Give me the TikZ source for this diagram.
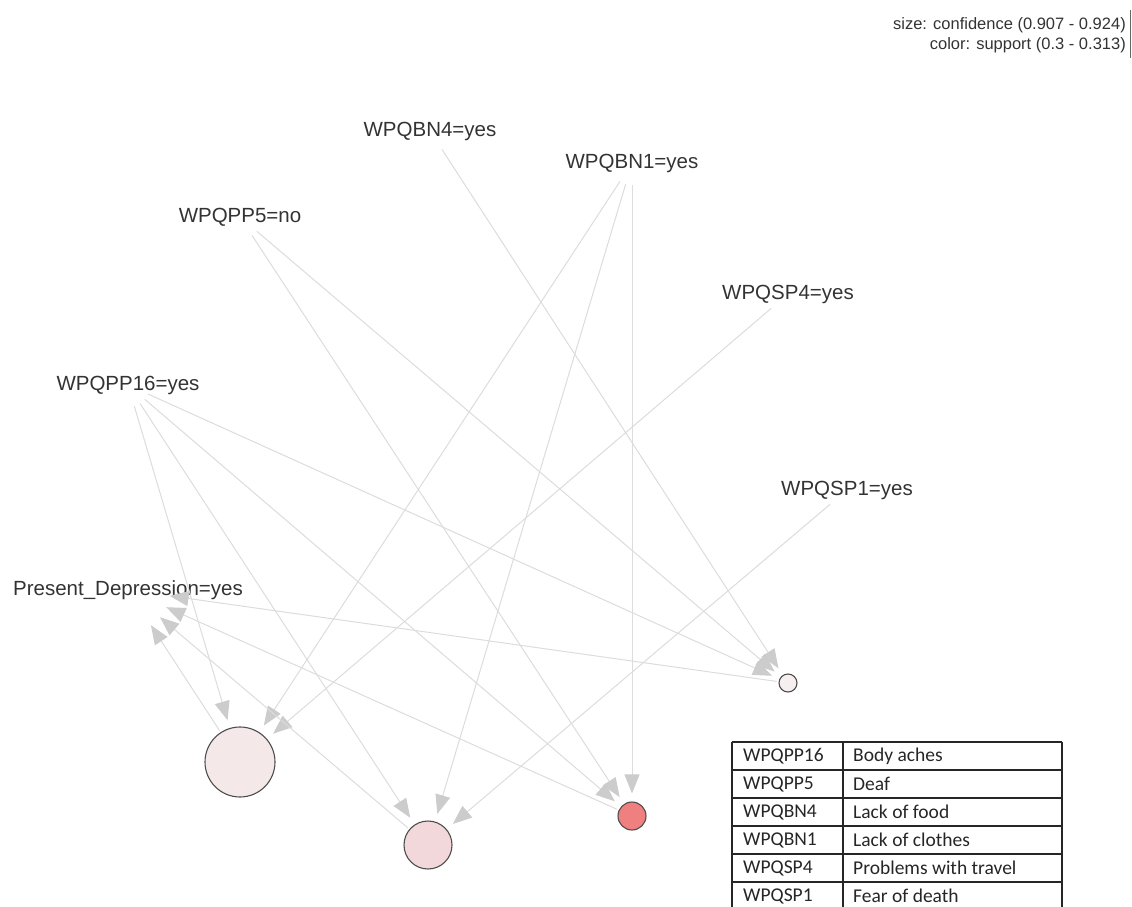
\documentclass[tikz,border=0pt]{standalone}
\usepackage{fontspec}
\setmainfont{Liberation Sans}
\newfontfamily\tabfont{Carlito}
\usetikzlibrary{arrows.meta}
\definecolor{edgecol}{HTML}{DCDCDC}
\definecolor{tipcol}{HTML}{CCCCCC}
\definecolor{labcol}{HTML}{333333}
\definecolor{rborder}{HTML}{4D4D4D}
\definecolor{rone}{HTML}{F5E8E8}
\definecolor{rtwo}{HTML}{F2D8DA}
\definecolor{rthree}{HTML}{F08080}
\definecolor{rfour}{HTML}{F6EFEF}
\begin{document}
\begin{tikzpicture}[x=1pt,y=-1pt,
  item/.style={text=labcol, font=\fontsize{20.5}{24}\selectfont, inner sep=0pt},
  legendtext/.style={text=labcol, font=\fontsize{16.5}{20}\selectfont, inner sep=0pt, anchor=east},
  rulenode/.style={circle, draw=rborder, line width=1.1pt, inner sep=0pt},
  edge/.style={draw=edgecol, line width=1pt, -{Triangle[length=19pt,width=15pt,color=tipcol]}},
  tabtext/.style={font=\tabfont\fontsize{19.5}{22}\selectfont, text=black!85, inner sep=0pt, anchor=west},
  tabline/.style={draw=black!85, line width=1.3pt}
]
\useasboundingbox (0,0) rectangle (1132,907);

% legend
\node[legendtext] (leg1) at (1126,25) {size: confidence (0.907 - 0.924)};
\node[legendtext] (leg2) at (1126,45) {color: support (0.3 - 0.313)};
\draw[black!60, line width=0.8pt] (1130,10) -- (1130,58);

% item labels
\node[item] (bn4) at (430,131) {WPQBN4=yes};
\node[item] (bn1) at (632,163) {WPQBN1=yes};
\node[item] (pp5) at (240,217) {WPQPP5=no};
\node[item] (sp4) at (788,294) {WPQSP4=yes};
\node[item] (pp16) at (128,385) {WPQPP16=yes};
\node[item] (sp1) at (847,490) {WPQSP1=yes};
\node[item] (pd) at (128,590) {Present\_Depression=yes};

% rule nodes
\node[rulenode, fill=rone, minimum size=70pt] (r1) at (240,762) {};
\node[rulenode, fill=rtwo, minimum size=48pt] (r2) at (428,845) {};
\node[rulenode, fill=rthree, minimum size=28pt] (r3) at (632,816) {};
\node[rulenode, fill=rfour, minimum size=18pt] (r4) at (788,683) {};

% LHS edges
\begin{scope}[edge, shorten <=22pt, shorten >=8pt]
  \draw (pp16.center) -- (r1);
  \draw (pp16.center) -- (r2);
  \draw (pp16.center) -- (r3);
  \draw (pp16.center) -- (r4);
  \draw (bn1.center) -- (r1);
  \draw (bn1.center) -- (r2);
  \draw (bn1.center) -- (r3);
  \draw (sp4.center) -- (r1);
  \draw (sp1.center) -- (r2);
  \draw (pp5.center) -- (r3);
  \draw (pp5.center) -- (r4);
  \draw (bn4.center) -- (r4);
\end{scope}

% RHS edges
\begin{scope}[edge, shorten <=2pt, shorten >=42pt]
  \draw (r1) -- (pd.center);
  \draw (r2) -- (pd.center);
  \draw (r3) -- (pd.center);
  \draw (r4) -- (pd.center);
\end{scope}

% table
\foreach \yy in {742,770,798,826,854,882} {\draw[tabline] (732,\yy) -- (1062,\yy);}
\foreach \xx in {732,843,1062} {\draw[tabline] (\xx,742) -- (\xx,907);}
\node[tabtext] (a1) at (743,756) {WPQPP16};
\node[tabtext] (b1) at (853,756) {Body aches};
\node[tabtext] (a2) at (743,784) {WPQPP5};
\node[tabtext] (b2) at (853,784) {Deaf};
\node[tabtext] (a3) at (743,812) {WPQBN4};
\node[tabtext] (b3) at (853,812) {Lack of food};
\node[tabtext] (a4) at (743,840) {WPQBN1};
\node[tabtext] (b4) at (853,840) {Lack of clothes};
\node[tabtext] (a5) at (743,868) {WPQSP4};
\node[tabtext] (b5) at (853,868) {Problems with travel};
\node[tabtext] (a6) at (743,896) {WPQSP1};
\node[tabtext] (b6) at (853,896) {Fear of death};
\end{tikzpicture}
\end{document}
